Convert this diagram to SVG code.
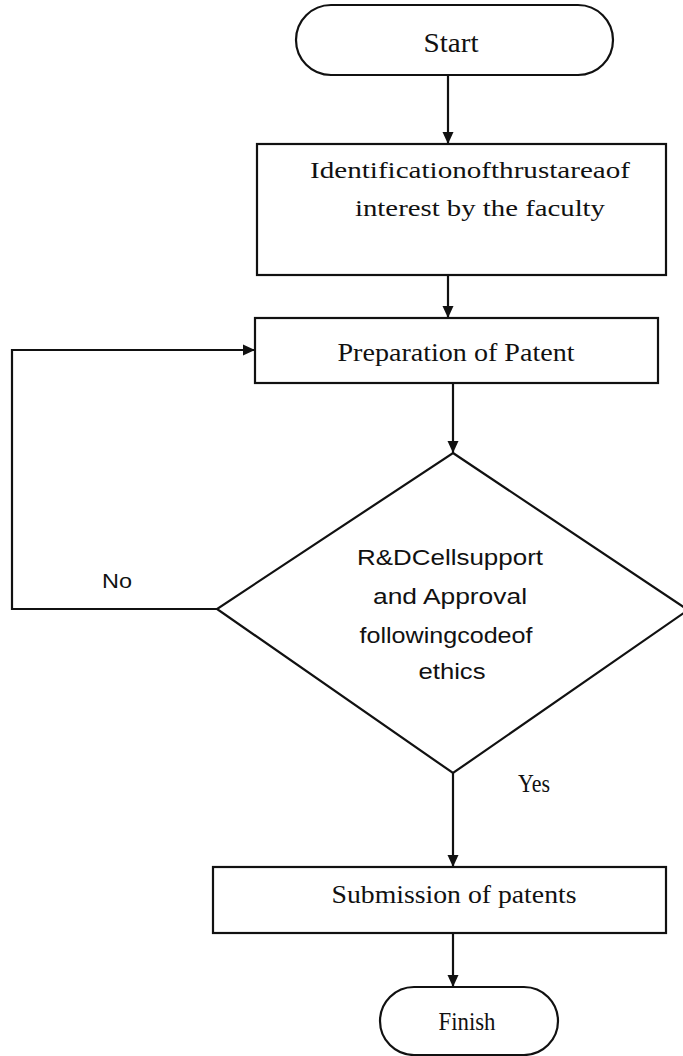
<svg xmlns="http://www.w3.org/2000/svg" width="683" height="1056" viewBox="0 0 683 1056">
<defs>
<marker id="arr" viewBox="0 0 12 12" refX="12" refY="6" markerWidth="12" markerHeight="12" markerUnits="userSpaceOnUse" orient="auto">
<path d="M0,0.5 L12,6 L0,11.5 z" fill="#111"/>
</marker>
<style>
.shape{fill:#fff;stroke:#111;stroke-width:2.2}
.conn{fill:none;stroke:#111;stroke-width:2.2;marker-end:url(#arr)}
.serif{font-family:"Liberation Serif","Times New Roman",serif;font-size:25px;fill:#111;text-anchor:middle}
.sans{font-family:"Liberation Sans",Arial,sans-serif;font-size:22px;fill:#111;text-anchor:middle}
</style>
</defs>
<rect width="683" height="1056" fill="#fff"/>
<g id="connectors">
<line class="conn" x1="448" y1="75" x2="448" y2="144"/>
<line class="conn" x1="448" y1="275" x2="448" y2="318"/>
<line class="conn" x1="453" y1="383" x2="453" y2="453"/>
<polyline class="conn" points="217,609 12,609 12,350 255,350"/>
<line class="conn" x1="453" y1="773" x2="453" y2="867"/>
<line class="conn" x1="453" y1="933" x2="453" y2="987"/>
<text class="sans" x="117" y="588" style="font-size:20px" textLength="30" lengthAdjust="spacingAndGlyphs">No</text>
<text class="serif" x="534" y="792" textLength="32" lengthAdjust="spacingAndGlyphs">Yes</text>
</g>
<g id="start">
<rect class="shape" x="296" y="5" width="317" height="70" rx="35"/>
<text class="serif" x="451" y="52" style="font-size:27px" textLength="55" lengthAdjust="spacingAndGlyphs">Start</text>
</g>
<g id="identify">
<rect class="shape" x="257" y="144" width="409" height="131"/>
<text class="serif" x="470" y="178" style="font-size:23px" textLength="320" lengthAdjust="spacingAndGlyphs">Identificationofthrustareaof</text>
<text class="serif" x="480" y="216" style="font-size:23px" textLength="250" lengthAdjust="spacingAndGlyphs">interest by the faculty</text>
</g>
<g id="prepare">
<rect class="shape" x="255" y="318" width="403" height="65"/>
<text class="serif" x="456" y="361" textLength="237" lengthAdjust="spacingAndGlyphs">Preparation of Patent</text>
</g>
<g id="decision">
<polygon class="shape" points="453,453 688,610 453,773 217,609"/>
<text class="sans" x="450" y="565" textLength="186" lengthAdjust="spacingAndGlyphs">R&amp;DCellsupport</text>
<text class="sans" x="450" y="604" textLength="154" lengthAdjust="spacingAndGlyphs">and Approval</text>
<text class="sans" x="446" y="643" textLength="173" lengthAdjust="spacingAndGlyphs">followingcodeof</text>
<text class="sans" x="452" y="679" textLength="67" lengthAdjust="spacingAndGlyphs">ethics</text>
</g>
<g id="submit">
<rect class="shape" x="213" y="867" width="453" height="66"/>
<text class="serif" x="454" y="903" textLength="245" lengthAdjust="spacingAndGlyphs">Submission of patents</text>
</g>
<g id="finish">
<rect class="shape" x="380" y="987" width="178" height="68" rx="34"/>
<text class="serif" x="467" y="1030" textLength="57" lengthAdjust="spacingAndGlyphs">Finish</text>
</g>
</svg>
